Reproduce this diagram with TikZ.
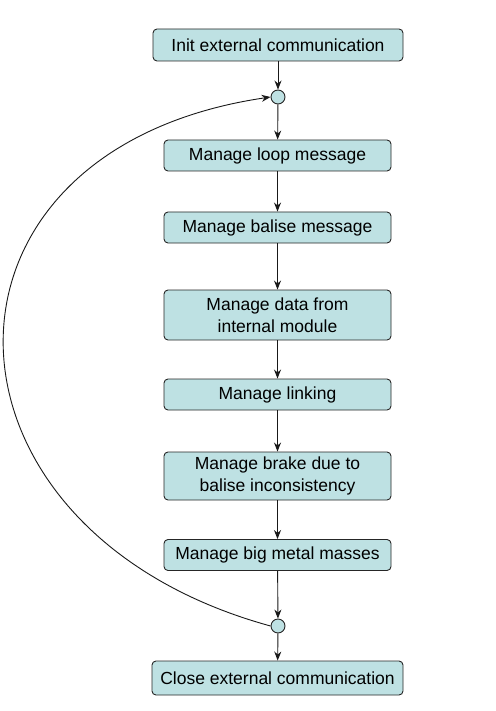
\documentclass[tikz,border=0pt]{standalone}
\usepackage{fontspec}
\setmainfont{Liberation Sans}
\usetikzlibrary{arrows.meta}
\definecolor{taskfill}{RGB}{190,225,227}
\tikzset{
	task/.style={
			draw=black!85, fill=taskfill, rounded corners=4pt, line width=0.9pt,
			minimum width=227pt, minimum height=31pt, inner sep=2pt,
			align=center, font=\fontsize{17.5}{22}\selectfont
		},
	junction/.style={circle, draw=black!85, line width=0.9pt, fill=taskfill, minimum size=14pt, inner sep=0pt},
	flow/.style={-{Stealth[length=9pt,width=7pt]}, line width=0.9pt, black!90}
}

\begin{document}
\begin{tikzpicture}[x=1pt,y=-1pt]
			\useasboundingbox (0,0) rectangle (495,711);

			% Draw the tasks
			\node[task, minimum width=250pt, minimum height=32pt] (init) at (278,45) {Init external communication};
			\node[junction] (jin) at (278,97) {};
			\node[task] (loop) at (277.5,155.5) {Manage loop message};
			\node[task] (balise) at (277.5,227.5) {Manage balise message};
			\node[task, minimum height=50pt] (data) at (277.5,315) {Manage data from\\internal module};
			\node[task] (linking) at (277.5,394.5) {Manage linking};
			\node[task, minimum height=48pt] (brake) at (277.5,476) {Manage brake due to\\balise inconsistency};
			\node[task] (metal) at (277.5,555) {Manage big metal masses};
			\node[junction] (jout) at (278,626) {};
			\node[task, minimum width=251pt, minimum height=34pt] (close) at (277.5,678) {Close external communication};

			% Draw the flow
			\draw[flow] (init) -- (jin);
			\draw[flow] (jin) -- (loop);
			\draw[flow] (loop) -- (balise);
			\draw[flow] (balise) -- (data);
			\draw[flow] (data) -- (linking);
			\draw[flow] (linking) -- (brake);
			\draw[flow] (brake) -- (metal);
			\draw[flow] (metal) -- (jout);
			\draw[flow] (jout) -- (close);

			% Draw the loop back
			\draw[flow] (jout.west) .. controls (-80,530) and (-90,150) .. (jin.west);
		\end{tikzpicture}
\end{document}
